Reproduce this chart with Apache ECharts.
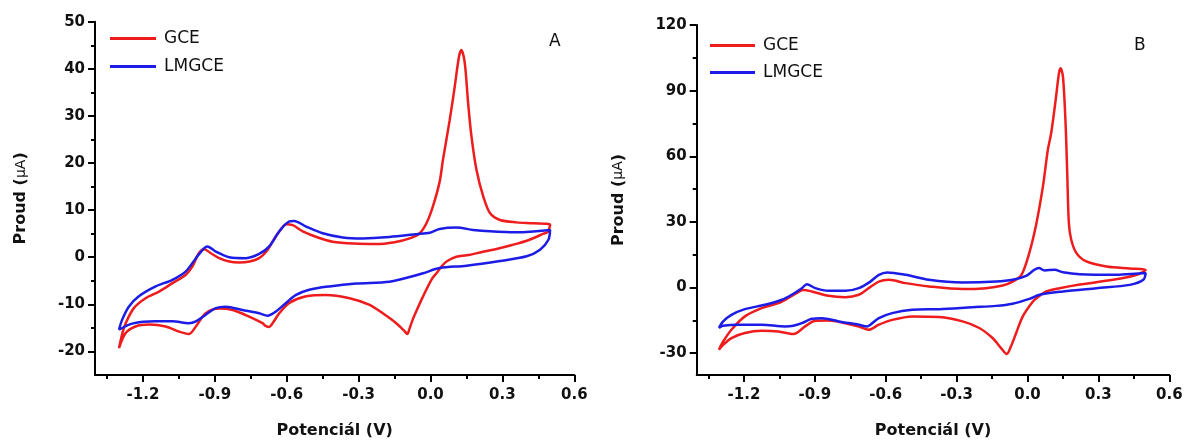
<!DOCTYPE html>
<html>
<head>
<meta charset="utf-8">
<script src="https://cdn.jsdelivr.net/npm/echarts@6/dist/echarts.min.js"></script>
<style>
  html, body { margin: 0; padding: 0; background: #fff; }
  #chart { width: 1185px; height: 441px; }
</style>
</head>
<body>
<div id="chart"></div>
<script>
// cyklická voltametrie, panely A a B

// tick hodnoty
const potTicks = [-1.2, -0.9, -0.6, -0.3, 0, 0.3, 0.6];
const potMinor = [-1.35, -1.05, -0.75, -0.45, -0.15, 0.15, 0.45];
const proudTicksA = [-20, -10, 0, 10, 20, 30, 40, 50];
const proudMinorA = [-15, -5, 5, 15, 25, 35, 45];
const proudTicksB = [-30, 0, 30, 60, 90, 120];
const proudMinorB = [-15, 15, 45, 75, 105];

// panel A - GCE (dopredu, pak zpet)
const gceA = [
  [-1.300,-19.3],[-1.285,-16.0],[-1.272,-14.0],[-1.238,-10.8],[-1.189,-8.7],[-1.133,-7.3],[-1.077,-5.5],
  [-1.021,-3.7],[-0.994,-2.0],[-0.966,0.9],[-0.945,1.7],[-0.915,0.8],[-0.882,-0.2],[-0.840,-0.9],
  [-0.798,-1.1],[-0.755,-0.9],[-0.715,-0.2],[-0.685,1.2],[-0.659,3.3],[-0.630,5.5],[-0.603,7.0],
  [-0.575,6.8],[-0.533,5.5],[-0.470,4.2],[-0.408,3.3],[-0.320,2.9],[-0.226,2.8],[-0.150,3.2],
  [-0.087,4.0],[-0.045,5.1],[-0.017,7.2],[0.010,10.8],[0.038,16.0],[0.052,20.7],[0.080,29.1],
  [0.101,36.2],[0.119,42.6],[0.129,44.0],[0.143,41.2],[0.157,32.7],[0.171,25.6],[0.192,18.5],
  [0.220,12.9],[0.248,9.4],[0.290,7.9],[0.359,7.4],[0.429,7.2],[0.499,6.9],
  [0.490,5.4],[0.472,5.0],[0.408,3.6],[0.340,2.6],[0.279,1.8],[0.215,1.1],[0.151,0.4],[0.108,0.1],
  [0.070,-0.8],[0.052,-1.6],[0.025,-3.4],[0.006,-4.6],[-0.031,-8.3],[-0.058,-11.3],[-0.074,-13.2],
  [-0.088,-15.2],[-0.097,-16.3],[-0.110,-15.6],[-0.143,-14.0],[-0.199,-11.9],[-0.254,-10.1],
  [-0.338,-8.7],[-0.436,-8.0],[-0.519,-8.3],[-0.589,-9.7],[-0.631,-11.9],[-0.659,-14.0],[-0.673,-14.8],
  [-0.690,-14.5],[-0.701,-14.0],[-0.757,-12.6],[-0.826,-11.2],[-0.882,-10.9],[-0.938,-11.9],
  [-0.979,-14.7],[-1.008,-16.3],[-1.049,-15.8],[-1.105,-14.7],[-1.175,-14.3],[-1.231,-14.7],
  [-1.272,-16.1],[-1.300,-19.3]
];
// panel A - LMGCE
const lmgceA = [
  [-1.300,-15.4],[-1.287,-13.3],[-1.259,-10.5],[-1.217,-8.3],[-1.147,-6.2],[-1.077,-4.8],[-1.021,-3.0],
  [-0.979,-0.2],[-0.945,1.9],[-0.931,2.3],[-0.896,1.2],[-0.840,0.0],[-0.770,-0.2],[-0.715,0.7],
  [-0.673,2.3],[-0.631,5.5],[-0.589,7.6],[-0.569,7.7],[-0.519,6.5],[-0.450,5.1],[-0.366,4.2],
  [-0.282,4.0],[-0.171,4.3],[-0.059,4.9],[-0.003,5.2],[0.038,6.0],[0.108,6.3],[0.178,5.8],
  [0.248,5.5],[0.359,5.3],[0.499,5.8],
  [0.492,3.7],[0.457,1.6],[0.401,0.2],[0.290,-0.8],[0.150,-1.8],[0.038,-2.3],[-0.031,-3.4],
  [-0.087,-4.2],[-0.171,-5.2],[-0.310,-5.6],[-0.422,-6.2],[-0.506,-6.9],[-0.561,-8.0],[-0.603,-9.7],
  [-0.645,-11.5],[-0.680,-12.4],[-0.715,-11.9],[-0.785,-11.2],[-0.854,-10.5],[-0.896,-10.8],
  [-0.938,-12.2],[-0.979,-13.6],[-1.008,-14.0],[-1.077,-13.6],[-1.147,-13.6],[-1.245,-14.1],[-1.300,-15.4]
];
// panel B - GCE
const gceB = [
  [-1.306,-28.5],[-1.288,-24.7],[-1.253,-19.3],[-1.196,-13.2],[-1.125,-9.4],[-1.054,-7.1],[-1.012,-4.8],
  [-0.983,-2.9],[-0.948,-1.1],[-0.913,-1.8],[-0.842,-3.8],[-0.771,-4.4],[-0.714,-3.3],[-0.672,-0.3],
  [-0.629,2.7],[-0.587,3.5],[-0.516,2.0],[-0.417,0.5],[-0.275,-0.7],[-0.176,-0.3],[-0.105,0.9],
  [-0.063,2.7],[-0.027,5.5],[0.004,14.5],[0.036,28.5],[0.065,46.1],[0.086,62.9],[0.100,70.5],
  [0.119,85.7],[0.133,97.9],[0.140,100.2],[0.150,96.4],[0.161,75.1],[0.168,52.3],[0.175,29.4],
  [0.185,21.8],[0.207,15.7],[0.249,11.9],[0.334,9.6],[0.433,8.7],[0.500,8.1],
  [0.462,5.8],[0.362,3.5],[0.221,1.4],[0.136,-0.3],[0.079,-1.8],[0.043,-4.5],[0.022,-6.5],
  [-0.020,-13.2],[-0.048,-20.8],[-0.070,-26.9],[-0.088,-30.4],[-0.112,-27.7],[-0.148,-23.1],
  [-0.204,-18.5],[-0.275,-15.5],[-0.374,-13.5],[-0.488,-13.2],[-0.573,-14.8],[-0.629,-17.0],
  [-0.672,-19.3],[-0.714,-17.8],[-0.771,-16.3],[-0.842,-15.1],[-0.898,-15.2],[-0.941,-17.8],
  [-0.991,-21.3],[-1.054,-20.1],[-1.125,-19.8],[-1.196,-20.8],[-1.253,-23.1],[-1.288,-26.2],[-1.306,-28.5]
];
// panel B - LMGCE
const lmgceB = [
  [-1.306,-18.5],[-1.288,-15.5],[-1.253,-12.5],[-1.196,-9.9],[-1.111,-7.9],[-1.040,-5.6],[-0.998,-3.3],
  [-0.955,-0.3],[-0.934,1.5],[-0.898,-0.3],[-0.842,-1.5],[-0.771,-1.5],[-0.714,-0.3],[-0.665,2.7],
  [-0.629,5.8],[-0.594,6.9],[-0.516,5.8],[-0.417,3.5],[-0.275,2.3],[-0.133,2.7],[-0.063,3.5],
  [-0.006,5.3],[0.029,8.1],[0.048,8.9],[0.072,7.8],[0.114,8.1],[0.150,7.0],[0.221,6.1],[0.362,5.8],
  [0.500,6.6],
  [0.490,3.5],[0.433,1.2],[0.292,-0.3],[0.150,-1.8],[0.051,-3.3],[0.008,-5.2],[-0.063,-7.4],
  [-0.133,-8.4],[-0.233,-9.0],[-0.374,-9.9],[-0.488,-10.2],[-0.573,-11.7],[-0.629,-14.0],
  [-0.665,-17.0],[-0.679,-17.8],[-0.714,-17.0],[-0.799,-15.5],[-0.870,-14.0],[-0.913,-14.3],
  [-0.955,-16.3],[-0.991,-17.5],[-1.026,-17.8],[-1.125,-17.0],[-1.224,-17.0],[-1.288,-17.5],[-1.306,-18.5]
];

const RED = '#ee1c1c';
const BLUE = '#1c1ce6';
const FONT = 'DejaVu Sans';

// hlavni osa x (popisky + dlouhe ticky)
function potAxis(grid, showName) {
  return {
    type: 'value', gridIndex: grid, position: 'bottom', min: -1.4, max: 0.6,
    name: showName ? 'Potenciál (V)' : '', nameLocation: 'middle', nameGap: 48,
    nameTextStyle: { fontFamily: FONT, fontWeight: 'bold', fontSize: 16, color: '#111' },
    axisLine: { onZero: false, lineStyle: { color: '#000', width: 2 } },
    axisTick: { customValues: potTicks, length: 7, lineStyle: { color: '#000', width: 2 } },
    axisLabel: {
      customValues: potTicks, margin: 13,
      fontFamily: FONT, fontWeight: 'bold', fontSize: 15, color: '#111',
      formatter: v => v.toFixed(1)
    },
    splitLine: { show: false }
  };
}
// druha osa jen pro kratke ticky
function potMinorAxis(grid) {
  return {
    type: 'value', gridIndex: grid, position: 'bottom', min: -1.4, max: 0.6,
    axisLine: { show: false, onZero: false },
    axisTick: { customValues: potMinor, length: 4, lineStyle: { color: '#000', width: 2 } },
    axisLabel: { show: false },
    splitLine: { show: false }
  };
}
function proudAxis(grid, min, max, ticks, gap) {
  return {
    type: 'value', gridIndex: grid, position: 'left', min: min, max: max,
    name: '{b|Proud (}{m|μA}{b|)}', nameLocation: 'middle', nameGap: gap, nameRotate: 90,
    nameTextStyle: {
      rich: {
        b: { fontFamily: FONT, fontWeight: 'bold', fontSize: 16, color: '#111' },
        m: { fontFamily: FONT, fontWeight: 'normal', fontSize: 14, color: '#111' }
      }
    },
    axisLine: { onZero: false, lineStyle: { color: '#000', width: 2 } },
    axisTick: { customValues: ticks, length: 7, lineStyle: { color: '#000', width: 2 } },
    axisLabel: {
      customValues: ticks, margin: 10,
      fontFamily: FONT, fontWeight: 'bold', fontSize: 15, color: '#111'
    },
    splitLine: { show: false }
  };
}
function proudMinorAxis(grid, min, max, ticks) {
  return {
    type: 'value', gridIndex: grid, position: 'left', min: min, max: max,
    axisLine: { show: false, onZero: false },
    axisTick: { customValues: ticks, length: 4, lineStyle: { color: '#000', width: 2 } },
    axisLabel: { show: false },
    splitLine: { show: false }
  };
}
function cvSeries(name, data, color, axisIdx) {
  return {
    name: name, type: 'line', data: data,
    xAxisIndex: axisIdx, yAxisIndex: axisIdx,
    symbol: 'none', smooth: 0.3, clip: true,
    lineStyle: { color: color, width: 2.5 },
    itemStyle: { color: color }
  };
}

const chart = echarts.init(document.getElementById('chart'), null, { renderer: 'canvas' });
const legendText = { fontFamily: FONT, fontSize: 17, color: '#111', lineHeight: 14, padding: [0, 0, 0, 3] };

chart.setOption({
  animation: false,
  backgroundColor: '#fff',
  title: [
    { text: 'A', left: 544, top: 28, textStyle: { fontFamily: FONT, fontWeight: 'normal', fontSize: 17, color: '#111' } },
    { text: 'B', left: 1129, top: 32, textStyle: { fontFamily: FONT, fontWeight: 'normal', fontSize: 17, color: '#111' } }
  ],
  legend: [
    {
      orient: 'vertical', left: 105, top: 25, icon: 'rect', itemWidth: 46, itemHeight: 3, itemGap: 11,
      data: ['GCE', 'LMGCE'], textStyle: legendText, selectedMode: false
    },
    {
      orient: 'vertical', left: 705, top: 32, icon: 'rect', itemWidth: 45, itemHeight: 3, itemGap: 10,
      data: ['GCE', 'LMGCE'], textStyle: legendText, selectedMode: false
    }
  ],
  grid: [
    { left: 95, top: 21.7, width: 479.3, height: 353.3, outerBoundsMode: 'none' },
    { left: 696.7, top: 25, width: 472.6, height: 350, outerBoundsMode: 'none' }
  ],
  xAxis: [potAxis(0, true), potMinorAxis(0), potAxis(1, true), potMinorAxis(1)],
  yAxis: [
    proudAxis(0, -25, 50, proudTicksA, 66),
    proudMinorAxis(0, -25, 50, proudMinorA),
    proudAxis(1, -40, 120, proudTicksB, 70),
    proudMinorAxis(1, -40, 120, proudMinorB)
  ],
  series: [
    cvSeries('GCE', gceA, RED, 0),
    cvSeries('LMGCE', lmgceA, BLUE, 0),
    cvSeries('GCE', gceB, RED, 2),
    cvSeries('LMGCE', lmgceB, BLUE, 2)
  ]
});
</script>
</body>
</html>
